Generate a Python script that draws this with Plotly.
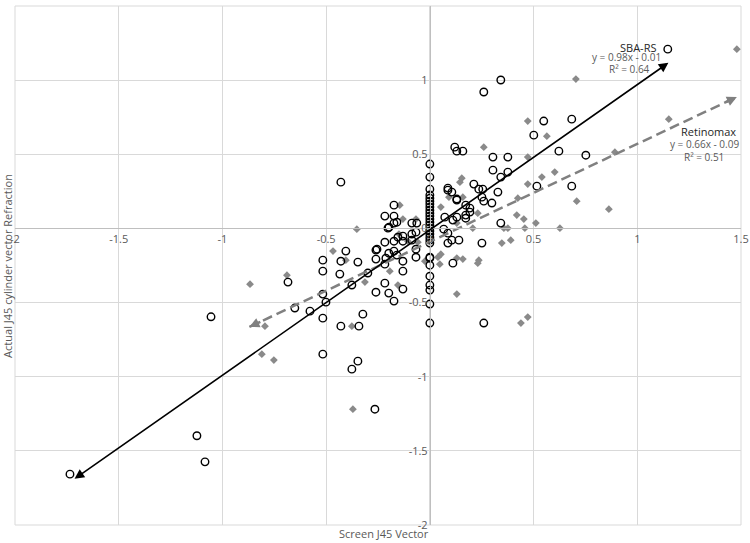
import plotly.graph_objects as go

# ---- data ----
sba_x = [-0.684, -0.651, -0.578, -0.516, -0.516, -0.501, -0.516, -0.516, -0.405, -0.429,
         -0.434, -0.347, -0.376, -0.299, -0.429, -0.342, -0.323, -0.260, -0.217, -0.198,
         -0.173, -0.130, -0.130, -0.130, -0.217, -0.260, -0.260, -0.255, -0.212, -0.198,
         -0.173, -0.159, -0.217, -0.173, -0.130, -0.154, -0.130, -0.087, -0.067, -0.067,
         -0.087, -0.067, -0.063, -0.087, -0.202, -0.197, -0.159, -0.173, -0.173, -0.217,
         -0.173, -0.429,
         0.072, 0.067, 0.087, 0.111, 0.130, 0.087, 0.106, 0.140, 0.130, 0.173,
         0.173, 0.173, 0.193, 0.193, 0.260, 0.299, 0.251, 0.342, 0.111, 0.260,
         0.342, 0.260, 0.549, 0.684, 0.501, 0.120, 0.130, 0.159, 0.304, 0.376,
         0.622, 0.752, 0.304, 0.376, 0.342, 0.212, 0.087, 0.087, 0.106, 0.236,
         0.255, 0.328, 0.251, 0.130, 0.516, 0.684, 1.147,
         -1.735, -1.123, -1.084, -1.055, -0.265, -0.376, -0.347, -0.516,
         0, 0, 0, 0, 0, 0, 0, 0, 0, 0, 0, 0, 0, 0, 0, 0, 0, 0, 0, 0,
         0, 0, 0, 0, 0, 0, 0, 0]
sba_y = [-0.362, -0.537, -0.558, -0.605, -0.443, -0.497, -0.288, -0.214, -0.153, -0.221,
         -0.308, -0.227, -0.382, -0.301, -0.659, -0.659, -0.578, -0.430, -0.369, -0.436,
         -0.490, -0.409, -0.288, -0.221, -0.241, -0.207, -0.146, -0.140, -0.201, -0.167,
         -0.153, -0.180, -0.093, -0.086, -0.086, -0.059, -0.052, -0.079, -0.140, -0.194,
         -0.038, -0.025, 0.036, 0.036, 0.002, 0.008, 0.042, 0.036, 0.083, 0.083,
         0.157, 0.312,
         0.076, -0.005, -0.032, 0.056, 0.076, -0.099, -0.079, -0.079, 0.191, 0.157,
         0.090, 0.069, 0.137, 0.110, 0.184, 0.171, -0.099, 0.036, -0.234, -0.638,
         1.001, 0.920, 0.724, 0.737, 0.629, 0.548, 0.521, 0.521, 0.481, 0.481,
         0.521, 0.494, 0.393, 0.380, 0.346, 0.299, 0.272, 0.258, 0.245, 0.265,
         0.265, 0.245, 0.211, 0.198, 0.285, 0.285, 1.209,
         -1.657, -1.398, -1.574, -0.596, -1.219, -0.949, -0.895, -0.848,
         0.434, 0.346, 0.265, 0.225, 0.204, 0.184, 0.164, 0.144, 0.123, 0.103,
         0.083, 0.063, 0.042, 0.022, 0.002, -0.018, -0.038, -0.059, -0.079, -0.099,
         -0.194, -0.200, -0.248, -0.322, -0.382, -0.416, -0.510, -0.638]

ret_x = [-0.867, -0.689, -0.795, -0.467, -0.405, -0.313, -0.376, -0.154, -0.193, -0.149,
         -0.106, -0.058, -0.024, -0.067, -0.130, -0.352, -0.145,
         0.053, 0.130, 0.231, 0.207, 0.347, 0.390, 0.357, 0.376, 0.419, 0.453,
         0.458, 0.511, 0.627, 0.708, 0.863, 0.053, 0.039, 0.048, 0.130, 0.159,
         0.236, 0.231, 0.130, 0.439, 0.472,
         0.472, 0.564, 0.260, 0.472, 0.892, 0.540, 0.602, 0.145, 0.154, 0.092,
         0.159, 0.472, 0.424, 0.704, 1.152, 1.480,
         -0.810, -0.752, -0.371]
ret_y = [-0.376, -0.315, -0.659, -0.153, -0.214, -0.362, -0.659, -0.382, -0.288, -0.038,
         -0.086, -0.093, -0.221, 0.063, 0.063, -0.005, 0.157,
         0.144, 0.036, 0.103, 0.002, -0.099, -0.079, 0.002, 0.002, 0.090, 0.063,
         0.002, 0.036, 0.002, 0.184, 0.130, -0.174, -0.194, -0.241, -0.200, -0.207,
         -0.214, -0.234, -0.443, -0.638, -0.598,
         0.724, 0.622, 0.548, 0.481, 0.514, 0.346, 0.380, 0.312, 0.339, 0.211,
         0.211, 0.299, 0.204, 1.007, 0.737, 1.209,
         -0.848, -0.888, -1.219]

# trend lines (slope, intercept, x-extent of the drawn line)
sba_fit = {"slope": 0.98, "intercept": -0.01, "x0": -1.72, "x1": 1.15}
ret_fit = {"slope": 0.66, "intercept": -0.09, "x0": -0.87, "x1": 1.48}

tick_vals = [-2, -1.5, -1, -0.5, 0, 0.5, 1, 1.5]
tick_text = ["-2", "-1.5", "-1", "-0.5", "0", "0.5", "1", "1.5"]

FONT = "Open Sans"
GRAY_TXT = "#595959"


def line_y(fit, x):
    return fit["slope"] * x + fit["intercept"]


fig = go.Figure()

fig.add_trace(go.Scatter(
    x=ret_x, y=ret_y, mode="markers", name="Retinomax",
    marker=dict(symbol="diamond", size=6, color="#8a8a8a", line=dict(width=0)),
))
fig.add_trace(go.Scatter(
    x=sba_x, y=sba_y, mode="markers", name="SBA-RS",
    marker=dict(symbol="circle-open", size=7.5, color="#000000", line=dict(width=1.4)),
))

# Retinomax dashed trend line
rx = [ret_fit["x0"], ret_fit["x1"]]
fig.add_trace(go.Scatter(
    x=rx, y=[line_y(ret_fit, v) for v in rx], mode="lines",
    line=dict(color="#808080", width=2.5, dash="10px,5px"), hoverinfo="skip",
))

annotations = []
# SBA-RS solid trend line with arrowheads on both ends
annotations.append(dict(
    x=sba_fit["x1"], y=line_y(sba_fit, sba_fit["x1"]),
    ax=sba_fit["x0"], ay=line_y(sba_fit, sba_fit["x0"]),
    xref="x", yref="y", axref="x", ayref="y", text="",
    showarrow=True, arrowhead=2, arrowside="end+start", arrowsize=1.2,
    arrowwidth=1.6, arrowcolor="#000000",
))
# Retinomax arrowheads
for xe, xi in [(ret_fit["x1"], ret_fit["x1"] - 0.06), (ret_fit["x0"], ret_fit["x0"] + 0.06)]:
    annotations.append(dict(
        x=xe, y=line_y(ret_fit, xe), ax=xi, ay=line_y(ret_fit, xi),
        xref="x", yref="y", axref="x", ayref="y", text="",
        showarrow=True, arrowhead=2, arrowsize=0.8, arrowwidth=2.5,
        arrowcolor="#808080",
    ))

# Trendline labels
labels = [
    ("SBA-RS", 1.002, 1.222, 11, "#262626"),
    ("y = 0.98x - 0.01", 0.949, 1.155, 10, GRAY_TXT),
    ("R² = 0.64", 0.964, 1.075, 10, GRAY_TXT),
    ("Retinomax", 1.345, 0.656, 11, "#262626"),
    ("y = 0.66x - 0.09", 1.325, 0.569, 10, GRAY_TXT),
    ("R² = 0.51", 1.320, 0.481, 10, GRAY_TXT),
]
for t, x, y, s, c in labels:
    annotations.append(dict(x=x, y=y, xref="x", yref="y", text=t, showarrow=False,
                            font=dict(family=FONT, size=s, color=c)))

# Axis titles
annotations.append(dict(x=0.508, y=-0.016, xref="paper", yref="paper",
                        text="Screen J45 Vector", showarrow=False,
                        xanchor="center", yanchor="middle",
                        font=dict(family=FONT, size=11, color=GRAY_TXT)))
annotations.append(dict(x=-0.0105, y=0.5, xref="paper", yref="paper",
                        text="Actual J45 cylinder vector Refraction", showarrow=False,
                        textangle=-90, xanchor="center", yanchor="middle",
                        font=dict(family=FONT, size=11, color=GRAY_TXT)))

axis_common = dict(
    range=[-2, 1.5], tickvals=tick_vals, ticktext=tick_text,
    showgrid=True, gridcolor="#d9d9d9", gridwidth=1,
    zeroline=False, showline=True, linecolor="#bfbfbf", linewidth=1,
    anchor="free", position=2 / 3.5, ticks="", ticklen=0, automargin=False,
    tickfont=dict(family=FONT, size=11, color=GRAY_TXT),
)

fig.update_layout(
    width=750, height=543,
    margin=dict(l=15, r=9, t=6, b=18, autoexpand=False),
    paper_bgcolor="white", plot_bgcolor="white",
    showlegend=False,
    annotations=annotations,
    xaxis=dict(axis_common),
    yaxis=dict(axis_common),
    shapes=[dict(type="rect", xref="paper", yref="paper", x0=0, y0=0, x1=1, y1=1,
                 line=dict(color="#d9d9d9", width=1), layer="below")],
)

fig.write_html(
    "out.html",
    config={"displayModeBar": False},
    post_script="document.body.style.margin='0';document.body.style.overflow='hidden';",
)
